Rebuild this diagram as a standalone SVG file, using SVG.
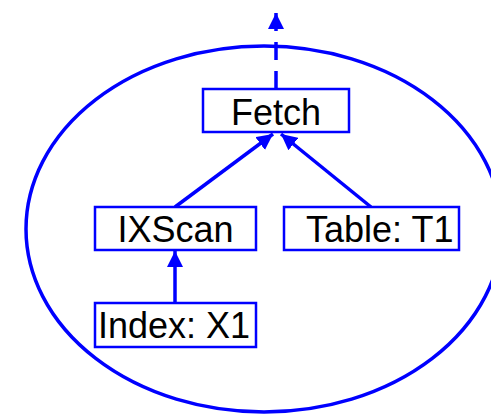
<svg xmlns="http://www.w3.org/2000/svg" width="491" height="414" viewBox="0 0 491 414">
<style>
.box{fill:#fff;stroke:#0000ff;stroke-width:2.5}
.lbl{font-family:"Liberation Sans",Arial,sans-serif;font-size:36px;fill:#000}
.edge{stroke:#0000ff;stroke-width:3.5;fill:none}
</style>
<defs>
<marker id="ah" markerUnits="userSpaceOnUse" markerWidth="16" markerHeight="16" viewBox="0 0 16 16" refX="16" refY="8" orient="auto">
<path d="M0,0 L16,8 L0,16 z" fill="#0000ff"/>
</marker>
</defs>
<ellipse id="scope" cx="264" cy="229" rx="238" ry="183" fill="none" stroke="#0000ff" stroke-width="3.5"/>
<g id="connectors">
<path class="edge" d="M276,89 L276,13" stroke-dasharray="18 11" marker-end="url(#ah)"/>
<path class="edge" d="M175,207 L273,134" marker-end="url(#ah)"/>
<path class="edge" d="M371,207 L281,134" marker-end="url(#ah)"/>
<path class="edge" d="M175,303 L175,251" marker-end="url(#ah)"/>
</g>
<g id="fetch">
<rect class="box" x="203" y="89" width="146" height="43"/>
<text class="lbl" x="276" y="125" text-anchor="middle">Fetch</text>
</g>
<g id="ixscan">
<rect class="box" x="95" y="207" width="161" height="43"/>
<text class="lbl" x="175.5" y="242" text-anchor="middle">IXScan</text>
</g>
<g id="table">
<rect class="box" x="284" y="207" width="175" height="43"/>
<text class="lbl" x="306" y="242">Table: T1</text>
</g>
<g id="index">
<rect class="box" x="95" y="303" width="161" height="44"/>
<text class="lbl" x="98" y="338">Index: X1</text>
</g>
</svg>
